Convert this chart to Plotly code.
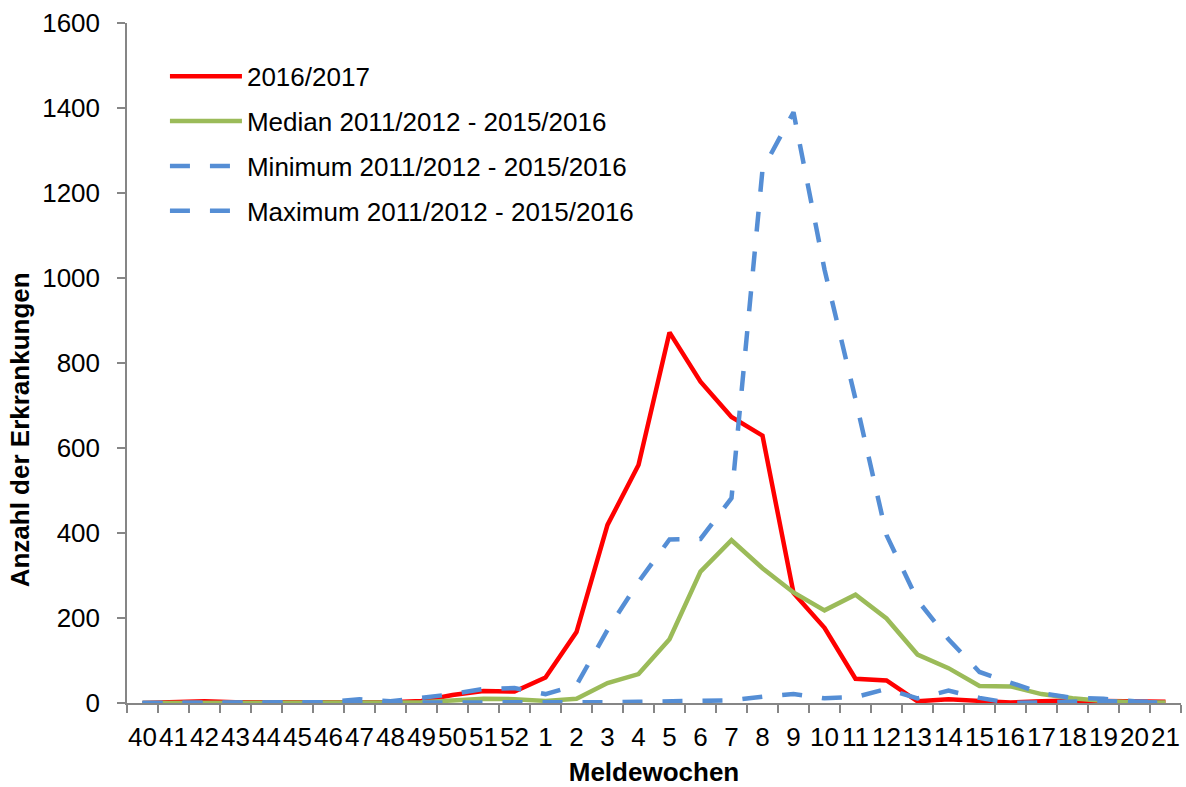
import plotly.graph_objects as go

weeks = ["40", "41", "42", "43", "44", "45", "46", "47", "48", "49", "50", "51", "52",
         "1", "2", "3", "4", "5", "6", "7", "8", "9", "10", "11", "12", "13", "14",
         "15", "16", "17", "18", "19", "20", "21"]

season_2016_2017 = [0, 1, 4, 2, 2, 2, 2, 3, 2, 5, 19, 28, 27,
                    60, 167, 419, 560, 872, 756, 673, 629, 259, 177, 57, 53, 4, 9,
                    5, 1, 4, 6, 5, 4, 3]

median_2011_2016 = [0, 0, 1, 1, 1, 1, 1, 1, 1, 2, 6, 10, 9,
                    5, 10, 47, 68, 150, 309, 383, 317, 260, 218, 255, 199, 114, 82,
                    40, 39, 21, 11, 5, 2, 1]

minimum_2011_2016 = [0, 0, 0, 0, 0, 0, 0, 0, 0, 0, 0, 0, 0,
                     1, 2, 2, 3, 4, 4, 6, 15, 21, 11, 14, 33, 11, 29,
                     12, 0, 2, 4, 5, 2, 1]

maximum_2011_2016 = [0, 0, 1, 1, 1, 1, 2, 9, 4, 12, 21, 33, 35,
                     21, 42, 172, 285, 385, 386, 482, 1255, 1390, 1020, 715, 395, 242, 150,
                     73, 48, 23, 12, 10, 4, 2]

FONT = "Liberation Sans, Arial, sans-serif"
BLUE = "#558ED5"

fig = go.Figure()
fig.add_trace(go.Scatter(x=weeks, y=season_2016_2017, mode="lines", name="2016/2017",
                         legendgroup="a",
                         line=dict(color="#FF0000", width=4.5)))
fig.add_trace(go.Scatter(x=weeks, y=median_2011_2016, mode="lines",
                         name="Median 2011/2012 - 2015/2016", legendgroup="b",
                         line=dict(color="#9BBB59", width=4.5)))
fig.add_trace(go.Scatter(x=weeks, y=minimum_2011_2016, mode="lines",
                         name="Minimum 2011/2012 - 2015/2016", legendgroup="c",
                         line=dict(color=BLUE, width=4.5, dash="20px,20px")))
fig.add_trace(go.Scatter(x=weeks, y=maximum_2011_2016, mode="lines",
                         name="Maximum 2011/2012 - 2015/2016", legendgroup="d",
                         line=dict(color=BLUE, width=4.5, dash="20px,20px")))

fig.update_layout(
    width=1186, height=787,
    margin=dict(l=127, r=5, t=23, b=84),
    paper_bgcolor="white", plot_bgcolor="white",
    font=dict(family=FONT, size=26, color="black"),
    showlegend=True,
    legend=dict(x=0.036, y=0.956, xanchor="left", yanchor="top",
                bgcolor="rgba(0,0,0,0)", font=dict(size=26),
                itemwidth=72, tracegroupgap=8),
    xaxis=dict(type="category", range=[-0.5, 33.5], tickangle=0, automargin=False,
               showline=True, linecolor="#868686", linewidth=1.5,
               ticks="outside", ticklen=8, tickcolor="#868686", tickwidth=1.5,
               tickson="boundaries", showgrid=False, zeroline=False,
               ticklabelstandoff=10,
               title=dict(text="<b>Meldewochen</b>", font=dict(size=26), standoff=15)),
    yaxis=dict(range=[0, 1600], dtick=200, tick0=0, automargin=False,
               showline=True, linecolor="#868686", linewidth=1.5,
               ticks="outside", ticklen=8, tickcolor="#868686", tickwidth=1.5,
               showgrid=False, zeroline=False, ticklabelstandoff=12),
    annotations=[dict(text="<b>Anzahl der Erkrankungen</b>", textangle=-90,
                      xref="paper", yref="paper", x=-0.1015, y=0.401,
                      xanchor="center", yanchor="middle", showarrow=False,
                      font=dict(size=26, family=FONT, color="black"))],
)

fig.write_html("out.html")
